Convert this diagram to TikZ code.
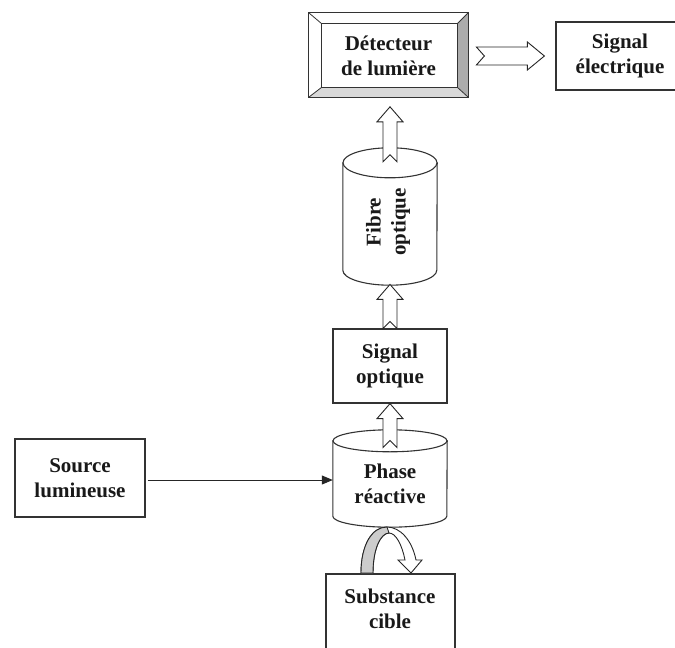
\documentclass[tikz,border=0pt]{standalone}
\usepackage{fontspec}
\setmainfont{Liberation Serif}
\usetikzlibrary{arrows.meta}

\tikzset{
  lbl/.style={font=\bfseries\fontsize{21}{25}\selectfont, align=center, inner sep=0pt, text=black!90},
  box/.style={draw=black!80, line width=1.2pt, fill=white, inner sep=0pt},
  frame/.style={inner sep=0pt},
  outline/.style={draw=black!85, line width=0.9pt, line join=miter},
  % hollow block arrow pointing up, tip at the origin, #1 = total length
  fatup/.pic={
    \draw[outline, fill=white] (0,0) -- (13,15) -- (7,15) -- (7,#1) -- (0,#1-7)
      -- (-7,#1) -- (-7,15) -- (-13,15) -- cycle;
  },
  % hollow block arrow pointing right, tip at the origin, #1 = total length
  fatright/.pic={
    \draw[outline, fill=white] (0,0) -- (-17,-14) -- (-17,-9) -- (-#1,-9) -- (-#1+8,0)
      -- (-#1,9) -- (-17,9) -- (-17,14) -- cycle;
  }
}

\begin{document}
\begin{tikzpicture}[x=1pt,y=-1pt]
\useasboundingbox (0,0) rectangle (675,648);
\clip (0,0) rectangle (675,648);

% ---------- bevelled detector box ----------
\node[frame, minimum width=159, minimum height=84] (det) at (388.5,55) {};
\coordinate (i1) at ([shift={(13,11)}]det.north west);
\coordinate (i2) at ([shift={(-11,11)}]det.north east);
\coordinate (i3) at ([shift={(-11,-10)}]det.south east);
\coordinate (i4) at ([shift={(13,-10)}]det.south west);
\fill[white] (det.north west) rectangle (det.south east);
\fill[gray!65] (det.north east) -- (det.south east) -- (i3) -- (i2) -- cycle;
\fill[gray!30] (det.south west) -- (det.south east) -- (i3) -- (i4) -- cycle;
\draw[black!80, line width=1.2pt] (det.north west) rectangle (det.south east);
\draw[black!80, line width=1pt] (i1) -- (i2) -- (i3) -- (i4) -- cycle;
\draw[black!80, line width=0.8pt] (det.north west) -- (i1) (det.north east) -- (i2)
  (det.south east) -- (i3) (det.south west) -- (i4);
\node[lbl] at ([yshift=-1pt]det.center) {Détecteur\\de lumière};

% ---------- electrical signal ----------
\node[box, minimum width=128, minimum height=68] (elec) at (620,56) {};
\node[lbl] at (elec.center) {Signal\\électrique};
\path ([xshift=-11pt]elec.west) pic {fatright=68};

% ---------- optical fibre (cylinder) ----------
\node[frame, minimum width=94, minimum height=107] (fib) at (390,216.5) {};
\draw[black!80, line width=1.1pt, fill=white]
  (fib.north west) -- (fib.south west)
  arc[start angle=180, end angle=0, x radius=47, y radius=15]
  -- (fib.north east) -- cycle;
\draw[black!80, line width=1.1pt, fill=white] (fib.north) ellipse[x radius=47, y radius=15];
\node[lbl, rotate=90] at (388,222) {Fibre\\optique};
\path (fib.north) ++(0,-56) pic {fatup=55};

% ---------- optical signal ----------
\node[box, minimum width=114, minimum height=74] (sopt) at (390,366) {};
\node[lbl] at (sopt.center) {Signal\\optique};
\path (sopt.north) ++(0,-44) pic {fatup=44};

% ---------- reactive phase (cylinder) ----------
\node[frame, minimum width=114, minimum height=75] (phase) at (390,478.5) {};
\draw[black!80, line width=1.1pt, fill=white]
  (phase.north west) -- (phase.south west)
  arc[start angle=180, end angle=0, x radius=57, y radius=11]
  -- (phase.north east) -- cycle;
\draw[black!80, line width=1.1pt, fill=white] (phase.north) ellipse[x radius=57, y radius=11];
\node[lbl] at ([yshift=-5.5pt]phase.center) {Phase\\réactive};
\path (sopt.south) pic {fatup=44};

% ---------- light source ----------
\node[box, minimum width=130, minimum height=78] (src) at (80,478) {};
\node[lbl] at (src.center) {Source\\lumineuse};
\draw[black!85, line width=1pt, -{Triangle[length=11pt, width=9pt]}]
  ([xshift=2pt, yshift=-2pt]src.east) -- ([yshift=-2pt]src.east -| phase.west);

% ---------- target substance ----------
\node[box, minimum width=129, minimum height=106] (sub) at (390.5,627) {};
\node[lbl] at (390,608.5) {Substance\\cible};

% ---------- curved interaction arrow ----------
\coordinate (cl) at (361,573);
\coordinate (cr) at (373,573);
\draw[outline, fill=white]
  (cl) .. controls (361,545) and (372,527) .. (387,527)
  .. controls (400,527) and (412,540) .. (416,560)
  -- (422,560) -- (411,573) -- (398,560) -- (405,560)
  .. controls (402,545) and (396,533) .. (389,533)
  .. controls (381,533) and (373,548) .. (cr) -- cycle;
\draw[outline, fill=gray!40]
  (cl) .. controls (361,545) and (372,527) .. (387,527) -- (389,533)
  .. controls (381,533) and (373,548) .. (cr) -- cycle;
\end{tikzpicture}
\end{document}
